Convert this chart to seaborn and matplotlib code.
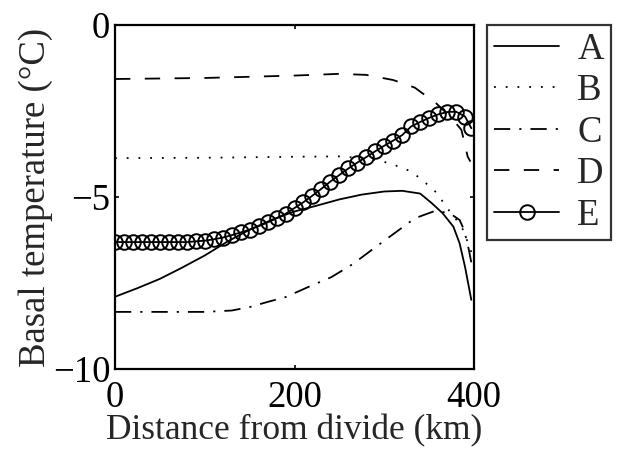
import numpy as np
import pandas as pd
import matplotlib
matplotlib.use("Agg")
import matplotlib.pyplot as plt
import seaborn as sns

# distance from divide (km) and basal temperature (C)
a_x = [0, 25, 50, 75, 100, 125, 150, 175, 200, 225, 250, 275, 300, 320, 340, 353, 365, 377, 384, 390, 397]
a_y = [-7.9, -7.65, -7.38, -7.05, -6.7, -6.3, -5.95, -5.66, -5.42, -5.25, -5.07, -4.93, -4.84, -4.82, -4.9,
       -5.18, -5.47, -5.86, -6.35, -7.03, -7.99]

b_x = [0, 100, 200, 250, 280, 300, 317, 330, 341, 351, 361, 367, 378, 388, 397]
b_y = [-3.87, -3.86, -3.83, -3.82, -3.88, -3.98, -4.12, -4.26, -4.48, -4.7, -4.94, -5.23, -5.57, -5.96, -6.6]

c_x = [0, 50, 100, 130, 150, 170, 190, 215, 241, 265, 286, 310, 334, 357, 373, 384, 389, 394, 397]
c_y = [-8.34, -8.34, -8.34, -8.3, -8.2, -8.05, -7.91, -7.62, -7.33, -6.95, -6.54, -6.08, -5.62, -5.4, -5.47,
       -5.67, -5.96, -6.5, -6.9]

d_x = [0, 100, 200, 250, 280, 310, 334, 358, 375, 386, 393, 396]
d_y = [-1.57, -1.54, -1.47, -1.42, -1.45, -1.6, -1.82, -2.28, -2.7, -3.05, -3.83, -3.97]

e_x = [0, 10, 20, 30, 40, 50, 60, 70, 80, 90, 100, 110, 120, 130, 140, 150, 160, 170, 180, 190,
       200, 210, 220, 230, 240, 250, 260, 270, 280, 290, 300, 310, 320, 330, 340, 350, 360, 370, 380, 390, 397]
e_y = [-6.31, -6.31, -6.31, -6.31, -6.31, -6.31, -6.31, -6.31, -6.31, -6.29, -6.27, -6.23, -6.18, -6.11, -6.03,
       -5.95, -5.85, -5.74, -5.62, -5.49, -5.32, -5.15, -4.96, -4.76, -4.55, -4.36, -4.17, -4.0, -3.84, -3.67,
       -3.51, -3.36, -3.2, -2.95, -2.82, -2.7, -2.6, -2.53, -2.52, -2.66, -3.0]

sns.set_style("ticks")
plt.rcParams['font.family'] = ['Liberation Serif', 'DejaVu Serif']
fs = 26.5

fig = plt.figure(figsize=(6.24, 4.51), dpi=100)
ax = fig.add_axes([115 / 624, 1 - 369 / 451, (474 - 115) / 624, (369 - 25) / 451])

lw = 1.3
sns.lineplot(x=a_x, y=a_y, ax=ax, color='black', lw=lw, linestyle='-', label='A')
sns.lineplot(x=b_x, y=b_y, ax=ax, color='black', lw=lw, linestyle=(0, (1, 5.5)), label='B')
sns.lineplot(x=c_x, y=c_y, ax=ax, color='black', lw=lw, linestyle=(0, (9, 5, 1.2, 5)), label='C')
sns.lineplot(x=d_x, y=d_y, ax=ax, color='black', lw=lw, linestyle=(0, (8.5, 8)), label='D')
sns.lineplot(x=e_x, y=e_y, ax=ax, color='black', lw=lw, marker='o', markersize=10.5,
             markerfacecolor='none', markeredgecolor='black', markeredgewidth=1.4, label='E')

ax.set_xlim(0, 400)
ax.set_ylim(-10, 0)
ax.set_xticks([0, 200, 400])
ax.set_yticks([0, -5, -10])
ax.set_yticklabels(['0', '\u22125', '\u221210'])
ax.tick_params(direction='in', length=3, width=1.2, top=True, right=True, labelsize=fs,
               color='black', labelcolor='black')
ax.tick_params(axis='x', pad=8)
ax.tick_params(axis='y', pad=3.5)
for s in ax.spines.values():
    s.set_linewidth(1.6)
    s.set_color('black')
ax.set_xlabel('Distance from divide (km)', fontsize=25.5, labelpad=0)
ax.set_ylabel('Basal temperature (\u00b0C)', fontsize=fs, labelpad=0)

handles, labels = ax.get_legend_handles_labels()
ax.legend_.remove()
leg = fig.legend(handles, labels, loc='upper left', bbox_to_anchor=(487 / 624, 1 - 25 / 451),
                 bbox_transform=fig.transFigure, borderaxespad=0, frameon=True, fancybox=False,
                 edgecolor='black', fontsize=fs, handlelength=1.75, labelspacing=0.19, borderpad=0.2,
                 handletextpad=0.5)
leg.get_frame().set_linewidth(1.6)

fig.savefig('out.png', dpi=100)
